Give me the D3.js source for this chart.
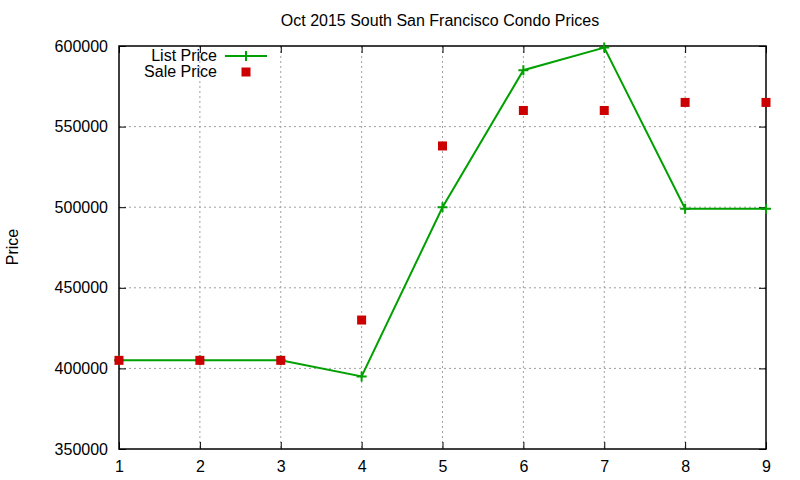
<!DOCTYPE html>
<html><head><meta charset="utf-8">
<script src="https://cdn.jsdelivr.net/npm/d3@7"></script>
<style>body{margin:0;background:#fff}svg{display:block;font-family:"Liberation Sans",Arial,sans-serif}</style>
</head><body><svg id="c" width="800" height="480"></svg>
<script>
const xValues = [1,2,3,4,5,6,7,8,9];
const listPrice = [405000,405000,405000,395000,500000,585000,599000,499000,499000];
const salePrice = [405000,405000,405000,430000,538000,560000,560000,565000,565000];
const yTicks = [350000,400000,450000,500000,550000,600000];
const xTicks = [1,2,3,4,5,6,7,8,9];
const chartTitle = "Oct 2015 South San Francisco Condo Prices";
const seriesNames = ["List Price","Sale Price"];

(function(){
const svg = d3.select("#c");
const L=119, R=766, T=46, B=449;
const x = d3.scaleLinear().domain([1,9]).range([L,R]);
const y = d3.scaleLinear().domain([350000,600000]).range([B,T]);
const fs = 16;

// grid
const g = svg.append("g");
g.selectAll(".gx").data(xTicks.slice(1,-1)).join("line")
  .attr("x1",d=>x(d)).attr("x2",d=>x(d)).attr("y1",T).attr("y2",B)
  .attr("stroke","#a0a0a0").attr("stroke-dasharray","2,3").attr("stroke-width",1);
g.selectAll(".gy").data(yTicks.slice(1,-1)).join("line")
  .attr("y1",d=>y(d)).attr("y2",d=>y(d)).attr("x1",L).attr("x2",R)
  .attr("stroke","#a0a0a0").attr("stroke-dasharray","2,3").attr("stroke-width",1);

const ax = (gen, tr) => svg.append("g").attr("transform",tr).call(gen)
  .call(s=>s.select(".domain").remove());
ax(d3.axisLeft(y).tickValues(yTicks).tickSizeInner(-7).tickPadding(11).tickFormat(d3.format("d")), `translate(${L},0)`);
ax(d3.axisRight(y).tickValues(yTicks).tickSizeInner(-7).tickFormat(""), `translate(${R},0)`);
ax(d3.axisBottom(x).tickValues(xTicks).tickSizeInner(-7).tickPadding(12).tickFormat(d3.format("d")), `translate(0,${B})`);
ax(d3.axisTop(x).tickValues(xTicks).tickSizeInner(-7).tickFormat(""), `translate(0,${T})`);
svg.selectAll(".tick line").attr("stroke","#000");
svg.selectAll(".tick text").attr("font-size",fs).attr("fill","#000").attr("font-family","Liberation Sans, Arial, sans-serif");

svg.append("rect").attr("x",L).attr("y",T).attr("width",R-L).attr("height",B-T)
  .attr("fill","none").attr("stroke","#000").attr("stroke-width",1.5);

svg.append("text").attr("x",440).attr("y",26).attr("text-anchor","middle").attr("font-size",fs).text(chartTitle);
svg.append("text").attr("transform","translate(18,247) rotate(-90)").attr("text-anchor","middle").attr("font-size",fs).text("Price");

const green="#00a000", red="#cc0000";
const plus = (sel,cx,cy)=>sel.append("path").attr("d",`M${cx-5},${cy}h10M${cx},${cy-5}v10`).attr("stroke",green).attr("stroke-width",2);

const pts = xValues.map((d,i)=>[x(d),y(listPrice[i])]);
svg.append("path").attr("d",d3.line()(pts)).attr("fill","none").attr("stroke",green).attr("stroke-width",2);
const pg = svg.append("g");
pts.forEach(p=>plus(pg,p[0],p[1]));

svg.append("g").selectAll("rect").data(xValues).join("rect")
  .attr("x",(d)=>x(d)-4.5).attr("y",(d,i)=>y(salePrice[i])-4.5).attr("width",9).attr("height",9).attr("fill",red);

const lg = svg.append("g");
lg.append("text").attr("x",217).attr("y",61).attr("text-anchor","end").attr("font-size",fs).text(seriesNames[0]);
lg.append("text").attr("x",217).attr("y",77).attr("text-anchor","end").attr("font-size",fs).text(seriesNames[1]);
lg.append("line").attr("x1",225).attr("x2",267).attr("y1",56).attr("y2",56).attr("stroke",green).attr("stroke-width",2);
plus(lg,246,56);
lg.append("rect").attr("x",241.5).attr("y",67.5).attr("width",9).attr("height",9).attr("fill",red);
})();
</script></body></html>
